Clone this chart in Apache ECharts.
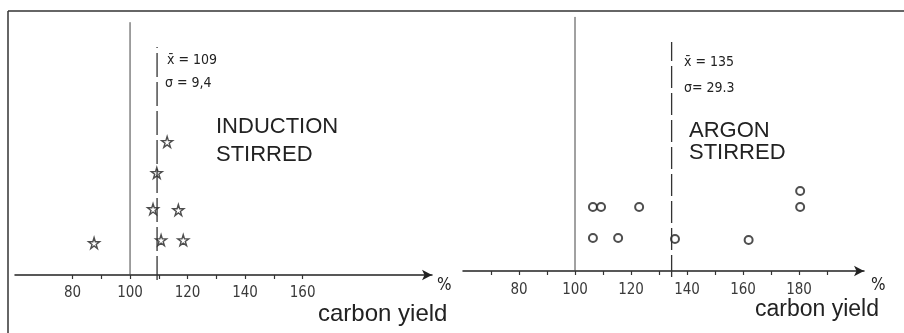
<!DOCTYPE html>
<html><head><meta charset="utf-8">
<script src="https://cdn.jsdelivr.net/npm/echarts@6/dist/echarts.min.js"></script>
<style>html,body{margin:0;padding:0;background:#fff}#c{width:904px;height:333px}</style>
</head><body><div id="c"></div>
<script>
// ---- data ----
const leftStarX = [112.9, 109.3, 108.0, 116.8, 87.5, 110.8, 118.5];
const leftStarY = [4.16, 3.19, 2.06, 2.03, 1.0, 1.09, 1.09];
const leftMean = 109.4;
const rightCircleX = [106.4, 109.3, 122.9, 106.4, 115.4, 135.7, 162.0, 180.4, 180.4];
const rightCircleY = [2.0, 2.0, 2.0, 1.03, 1.03, 1.0, 0.97, 2.0, 2.5];
const rightMean = 134.5;
const leftTickLabels = [80, 100, 120, 140, 160];
const rightTickLabels = [80, 100, 120, 140, 160, 180];
const leftTicks = [80, 90, 100, 110, 120, 130, 140, 150, 160];
const rightTicks = [70, 80, 90, 100, 110, 120, 130, 140, 150, 160, 170, 180, 190];

const starPath = 'path://M50,0 L61,35 L98,35 L68,57 L79,91 L50,70 L21,91 L32,57 L2,35 L39,35 Z';
const ink = '#222';
const labelFont = "'Liberation Sans Narrow','DejaVu Sans Condensed',sans-serif";
const handFont = "14px 'DejaVu Sans Condensed', sans-serif";
const bigFont = "22px 'Liberation Sans', Arial, sans-serif";

function xAxisFor(gi, max, labels, ticks, margin) {
  return {
    type: 'value', gridIndex: gi, min: 60, max: max,
    splitLine: {show: false},
    axisLine: {show: true, onZero: false, symbol: ['none', 'arrow'], symbolSize: [8, 10],
      lineStyle: {color: ink, width: 1.5}},
    axisTick: {show: true, customValues: ticks, length: 4, lineStyle: {color: '#333', width: 1.2}},
    axisLabel: {show: true, customValues: labels, margin: margin, fontSize: 15, color: '#3a3a3a',
      fontFamily: labelFont}
  };
}
function yAxisFor(gi) {
  return {type: 'value', gridIndex: gi, min: 0, max: 8, show: false};
}

const st = (a, b) => a.map((v, i) => [v, b[i]]);
const txt = (x, y, text, font) => ({type: 'text', x: x, y: y,
  style: {text: text, font: font, fill: ink, verticalAlign: 'top', align: 'left'}});

const option = {
  animation: false,
  grid: [
    {left: 15, right: 904 - 432, top: 19, bottom: 58},
    {left: 463, right: 904 - 864, top: 15, bottom: 62}
  ],
  xAxis: [xAxisFor(0, 205, leftTickLabels, leftTicks, 11), xAxisFor(1, 203.2, rightTickLabels, rightTicks, 12)],
  yAxis: [yAxisFor(0), yAxisFor(1)],
  series: [
    {type: 'line', xAxisIndex: 0, yAxisIndex: 0, clip: false, symbol: 'none',
      data: [[100, 0], [100, 7.9]], lineStyle: {color: '#444', width: 1}},
    {type: 'line', xAxisIndex: 0, yAxisIndex: 0, clip: false, symbol: 'none',
      data: [[leftMean, -0.16], [leftMean, 7.125]], lineStyle: {color: '#333', width: 1.3, type: [24, 5]}},
    {type: 'line', xAxisIndex: 1, yAxisIndex: 1, clip: false, symbol: 'none',
      data: [[100, 0], [100, 7.94]], lineStyle: {color: '#444', width: 1}},
    {type: 'line', xAxisIndex: 1, yAxisIndex: 1, clip: false, symbol: 'none',
      data: [[rightMean, -0.19], [rightMean, 7.16]], lineStyle: {color: '#333', width: 1.3, type: [22, 5]}},
    {type: 'scatter', xAxisIndex: 0, yAxisIndex: 0, symbol: starPath, symbolSize: 11,
      data: st(leftStarX, leftStarY),
      itemStyle: {color: '#fff', borderColor: ink, borderWidth: 1.4}},
    {type: 'scatter', xAxisIndex: 1, yAxisIndex: 1, symbol: 'circle', symbolSize: 8,
      data: st(rightCircleX, rightCircleY),
      itemStyle: {color: '#fff', borderColor: ink, borderWidth: 2}}
  ],
  graphic: [
    {type: 'line', shape: {x1: 8, y1: 11, x2: 904, y2: 11}, style: {stroke: '#333', lineWidth: 1.5}},
    {type: 'line', shape: {x1: 8, y1: 11, x2: 8, y2: 333}, style: {stroke: '#333', lineWidth: 1.5}},
    txt(167, 53, 'x\u0304 = 109', handFont),
    txt(165, 76, 'σ = 9,4', handFont),
    txt(216, 116, 'INDUCTION', bigFont),
    txt(216, 143.5, 'STIRRED', bigFont),
    txt(437, 277, '%', "17px 'DejaVu Sans Condensed', sans-serif"),
    txt(318, 302, 'carbon yield', "24px 'Liberation Sans', Arial, sans-serif"),
    txt(684, 55, 'x\u0304 = 135', handFont),
    txt(684, 81, 'σ= 29.3', handFont),
    txt(689, 119.5, 'ARGON', bigFont),
    txt(689, 142, 'STIRRED', bigFont),
    txt(871, 277, '%', "17px 'DejaVu Sans Condensed', sans-serif"),
    txt(755, 298, 'carbon yield', "23px 'Liberation Sans', Arial, sans-serif")
  ]
};
const chart = echarts.init(document.getElementById('c'), null, {renderer: 'canvas'});
chart.setOption(option);
</script></body></html>
